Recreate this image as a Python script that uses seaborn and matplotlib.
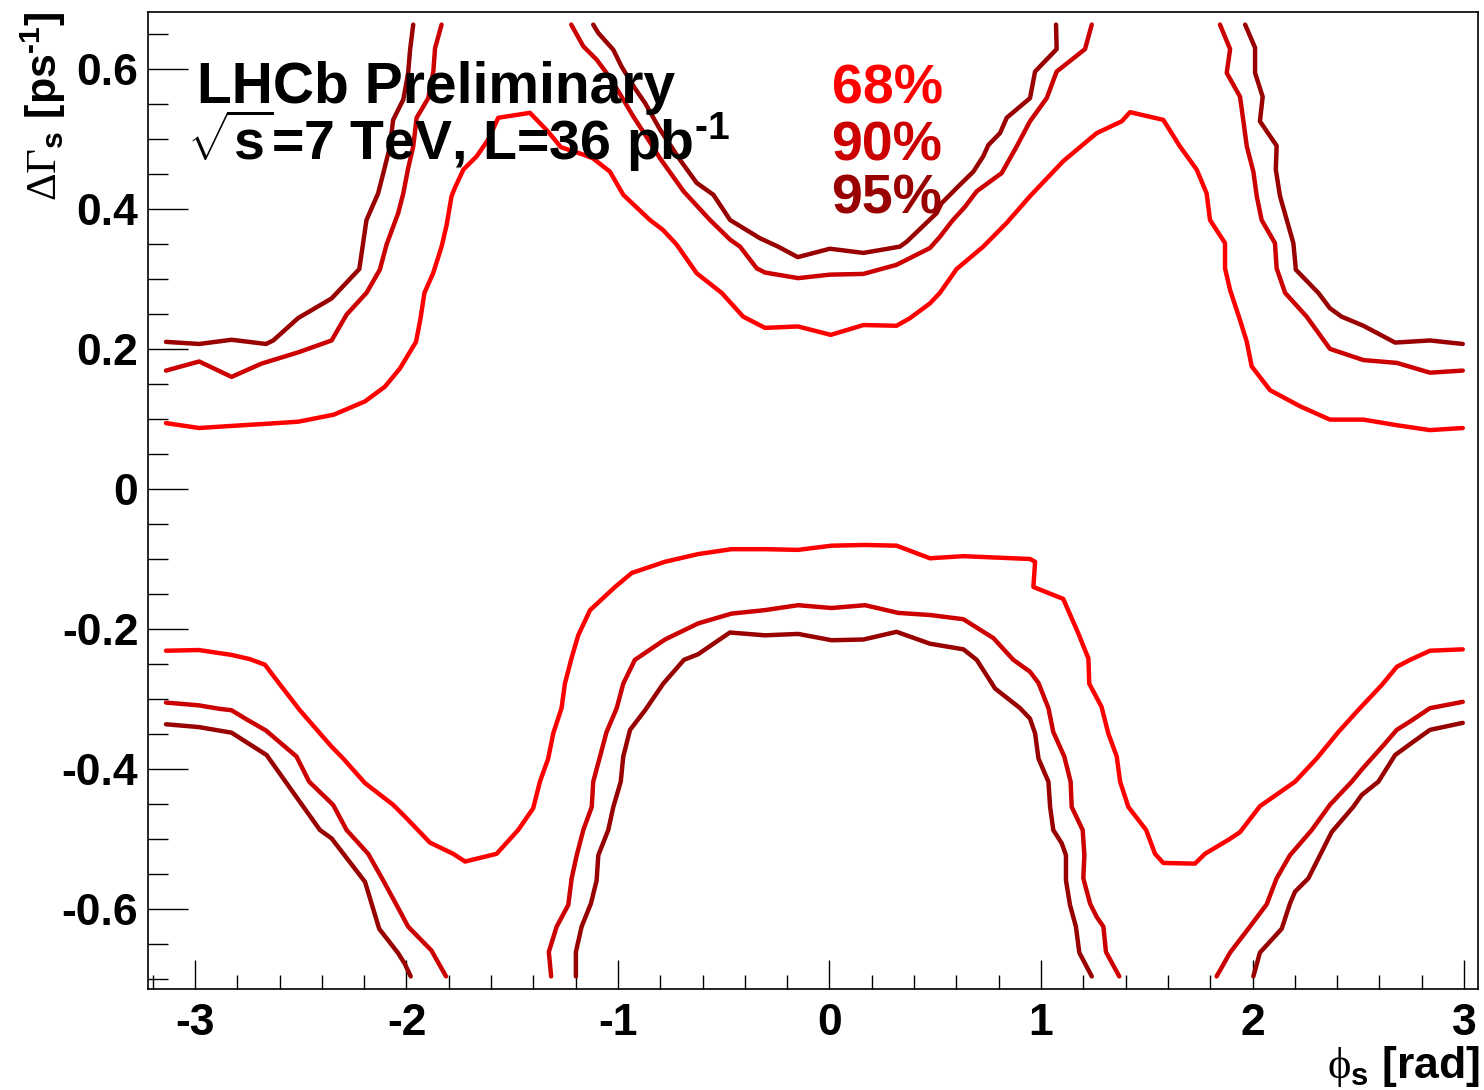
import pandas as pd
import seaborn as sns
import matplotlib.pyplot as plt
from matplotlib.ticker import MultipleLocator, FuncFormatter

# confidence levels and their colours
levels = ["68%", "90%", "95%"]
level_colors = {"68%": "#ff0000", "90%": "#cc0000", "95%": "#990000"}

# 68% contour, upper band (one piece)
up68_x = [-3.137, -2.980, -2.827, -2.664, -2.512, -2.344, -2.196, -2.102, -2.031, -1.955,
          -1.935, -1.915, -1.874, -1.834, -1.810, -1.787, -1.771, -1.731, -1.668, -1.613,
          -1.566, -1.416, -1.330, -1.270, -1.170, -1.118, -1.038, -0.975, -0.849, -0.788,
          -0.723, -0.628, -0.510, -0.408, -0.305, -0.149, 0.006, 0.160, 0.317, 0.381,
          0.475, 0.522, 0.601, 0.727, 0.838, 0.948, 1.105, 1.263, 1.382, 1.421,
          1.578, 1.657, 1.736, 1.783, 1.799, 1.870, 1.870, 1.894, 1.941, 1.973,
          1.996, 2.083, 2.225, 2.366, 2.524, 2.682, 2.839, 2.994]
up68_y = [0.094, 0.087, 0.090, 0.093, 0.096, 0.106, 0.125, 0.146, 0.172, 0.210,
          0.241, 0.280, 0.308, 0.346, 0.377, 0.418, 0.430, 0.456, 0.475, 0.499,
          0.530, 0.537, 0.510, 0.488, 0.478, 0.472, 0.453, 0.420, 0.384, 0.370,
          0.349, 0.308, 0.280, 0.246, 0.230, 0.232, 0.220, 0.234, 0.233, 0.244,
          0.265, 0.280, 0.314, 0.346, 0.380, 0.418, 0.468, 0.508, 0.525, 0.538,
          0.527, 0.489, 0.456, 0.422, 0.384, 0.351, 0.315, 0.284, 0.241, 0.210,
          0.175, 0.141, 0.118, 0.099, 0.099, 0.091, 0.084, 0.087]

# 68% contour, lower band (one piece)
lo68_x = [-3.137, -2.982, -2.827, -2.740, -2.669, -2.591, -2.504, -2.409, -2.354, -2.299,
          -2.196, -2.063, -2.000, -1.889, -1.779, -1.723, -1.574, -1.472, -1.401, -1.369,
          -1.330, -1.306, -1.267, -1.251, -1.220, -1.188, -1.132, -1.014, -0.935, -0.778,
          -0.621, -0.463, -0.305, -0.148, 0.010, 0.168, 0.317, 0.475, 0.633, 0.790,
          0.948, 0.972, 0.964, 1.105, 1.176, 1.224, 1.228, 1.286, 1.318, 1.358,
          1.374, 1.413, 1.497, 1.539, 1.578, 1.728, 1.775, 1.886, 1.941, 2.035,
          2.201, 2.303, 2.406, 2.508, 2.611, 2.682, 2.745, 2.839, 2.994]
lo68_y = [-0.231, -0.230, -0.237, -0.243, -0.251, -0.282, -0.316, -0.349, -0.368, -0.385,
          -0.420, -0.451, -0.470, -0.505, -0.521, -0.532, -0.521, -0.487, -0.456, -0.418,
          -0.385, -0.349, -0.313, -0.278, -0.242, -0.209, -0.173, -0.140, -0.120, -0.104,
          -0.093, -0.086, -0.086, -0.087, -0.081, -0.080, -0.081, -0.099, -0.096, -0.098,
          -0.100, -0.104, -0.140, -0.157, -0.206, -0.242, -0.278, -0.311, -0.349, -0.382,
          -0.418, -0.454, -0.487, -0.521, -0.534, -0.535, -0.521, -0.501, -0.490, -0.453,
          -0.418, -0.385, -0.347, -0.313, -0.280, -0.254, -0.244, -0.231, -0.229]

# 90% contour pieces
up90a_x = [-3.137, -2.980, -2.827, -2.685, -2.512, -2.354, -2.283, -2.189, -2.126, -2.094,
           -2.039, -2.015, -1.992, -1.968, -1.952, -1.897, -1.873, -1.865, -1.834]
up90a_y = [0.169, 0.182, 0.160, 0.179, 0.195, 0.212, 0.249, 0.280, 0.313, 0.349,
           0.394, 0.422, 0.458, 0.489, 0.530, 0.558, 0.596, 0.629, 0.663]
up90b_x = [-1.221, -1.164, -1.101, -1.037, -0.975, -0.928, -0.857, -0.801, -0.690, -0.565,
           -0.470, -0.423, -0.344, -0.305, -0.148, 0.002, 0.160, 0.317, 0.475, 0.522,
           0.578, 0.641, 0.696, 0.782, 0.814, 0.885, 0.948, 1.027, 1.074, 1.208, 1.240]
up90b_y = [0.663, 0.632, 0.613, 0.587, 0.556, 0.532, 0.499, 0.472, 0.425, 0.384,
           0.356, 0.346, 0.315, 0.309, 0.301, 0.306, 0.307, 0.320, 0.344, 0.360,
           0.382, 0.403, 0.425, 0.444, 0.451, 0.489, 0.525, 0.558, 0.596, 0.628, 0.663]
up90c_x = [1.846, 1.894, 1.878, 1.941, 1.973, 2.004, 2.020, 2.043, 2.106, 2.114,
           2.154, 2.256, 2.366, 2.524, 2.682, 2.839, 2.994]
up90c_y = [0.663, 0.628, 0.594, 0.560, 0.489, 0.453, 0.418, 0.384, 0.351, 0.315,
           0.280, 0.246, 0.200, 0.184, 0.180, 0.166, 0.169]
lo90a_x = [-3.137, -2.982, -2.883, -2.827, -2.756, -2.664, -2.520, -2.460, -2.347, -2.283,
           -2.181, -2.110, -2.047, -1.992, -1.882, -1.813]
lo90a_y = [-0.305, -0.309, -0.314, -0.316, -0.329, -0.345, -0.382, -0.418, -0.451, -0.487,
           -0.521, -0.559, -0.594, -0.625, -0.659, -0.696]
lo90b_x = [-1.316, -1.327, -1.290, -1.235, -1.219, -1.195, -1.164, -1.124, -1.117, -1.085,
           -1.054, -1.006, -0.975, -0.920, -0.778, -0.621, -0.463, -0.305, -0.148, 0.010,
           0.168, 0.325, 0.475, 0.633, 0.775, 0.869, 0.948, 0.988, 1.035, 1.058,
           1.110, 1.140, 1.145, 1.197, 1.205, 1.200, 1.232, 1.263, 1.295, 1.307, 1.370]
lo90b_y = [-0.696, -0.661, -0.625, -0.594, -0.556, -0.523, -0.487, -0.454, -0.418, -0.382,
           -0.347, -0.313, -0.278, -0.244, -0.215, -0.192, -0.178, -0.173, -0.166, -0.170,
           -0.166, -0.177, -0.180, -0.186, -0.213, -0.244, -0.261, -0.277, -0.313, -0.347,
           -0.382, -0.418, -0.454, -0.487, -0.523, -0.556, -0.592, -0.611, -0.625, -0.661, -0.696]
lo90c_x = [1.830, 1.894, 1.980, 2.067, 2.114, 2.177, 2.280, 2.366, 2.469, 2.524,
           2.619, 2.682, 2.745, 2.839, 2.994]
lo90c_y = [-0.696, -0.662, -0.628, -0.593, -0.556, -0.523, -0.487, -0.451, -0.418, -0.398,
           -0.366, -0.344, -0.332, -0.313, -0.304]

# 95% contour pieces
up95a_x = [-3.137, -2.980, -2.827, -2.664, -2.630, -2.512, -2.354, -2.223, -2.189, -2.134,
           -2.102, -2.078, -2.063, -2.015, -1.992, -1.983, -1.968]
up95a_y = [0.210, 0.207, 0.213, 0.207, 0.212, 0.244, 0.272, 0.314, 0.384, 0.422,
           0.460, 0.489, 0.527, 0.556, 0.594, 0.627, 0.663]
up95b_x = [-1.117, -1.093, -1.022, -0.983, -0.920, -0.872, -0.801, -0.707, -0.628, -0.549,
           -0.470, -0.329, -0.243, -0.150, 0.002, 0.160, 0.333, 0.365, 0.507, 0.530,
           0.609, 0.680, 0.727, 0.751, 0.806, 0.838, 0.948, 0.972, 1.074, 1.071]
up95b_y = [0.663, 0.651, 0.627, 0.603, 0.572, 0.551, 0.513, 0.470, 0.437, 0.420,
           0.384, 0.358, 0.346, 0.331, 0.343, 0.337, 0.346, 0.353, 0.394, 0.408,
           0.432, 0.453, 0.475, 0.491, 0.508, 0.530, 0.558, 0.596, 0.628, 0.663]
up95c_x = [1.965, 2.012, 2.012, 2.048, 2.035, 2.114, 2.110, 2.130, 2.193, 2.205,
           2.311, 2.366, 2.421, 2.524, 2.674, 2.839, 2.994]
up95c_y = [0.663, 0.630, 0.594, 0.560, 0.525, 0.490, 0.456, 0.418, 0.351, 0.313,
           0.280, 0.258, 0.246, 0.233, 0.209, 0.212, 0.207]
lo95a_x = [-3.137, -2.982, -2.827, -2.661, -2.520, -2.409, -2.354, -2.196, -2.165, -2.129,
           -2.039, -2.008, -1.980]
lo95a_y = [-0.336, -0.340, -0.348, -0.380, -0.440, -0.487, -0.499, -0.561, -0.592, -0.628,
           -0.663, -0.678, -0.696]
lo95b_x = [-1.199, -1.199, -1.172, -1.128, -1.101, -1.093, -1.046, -1.022, -0.987, -0.975,
           -0.943, -0.872, -0.786, -0.688, -0.621, -0.471, -0.305, -0.148, 0.010, 0.160,
           0.317, 0.475, 0.633, 0.696, 0.783, 0.901, 0.948, 0.972, 0.988, 1.035,
           1.043, 1.058, 1.098, 1.118, 1.118, 1.137, 1.165, 1.181, 1.240]
lo95b_y = [-0.696, -0.661, -0.625, -0.592, -0.559, -0.523, -0.487, -0.454, -0.418, -0.382,
           -0.344, -0.316, -0.278, -0.244, -0.236, -0.205, -0.209, -0.207, -0.216, -0.215,
           -0.204, -0.221, -0.229, -0.244, -0.285, -0.313, -0.328, -0.349, -0.385, -0.418,
           -0.454, -0.487, -0.506, -0.523, -0.559, -0.594, -0.625, -0.662, -0.696]
lo95c_x = [2.004, 2.035, 2.138, 2.177, 2.201, 2.264, 2.319, 2.374, 2.476, 2.516,
           2.595, 2.674, 2.760, 2.839, 2.994]
lo95c_y = [-0.696, -0.662, -0.628, -0.592, -0.575, -0.556, -0.523, -0.490, -0.454, -0.437,
           -0.418, -0.380, -0.361, -0.344, -0.334]

pieces = [
    ("68%", up68_x, up68_y), ("68%", lo68_x, lo68_y),
    ("90%", up90a_x, up90a_y), ("90%", up90b_x, up90b_y), ("90%", up90c_x, up90c_y),
    ("90%", lo90a_x, lo90a_y), ("90%", lo90b_x, lo90b_y), ("90%", lo90c_x, lo90c_y),
    ("95%", up95a_x, up95a_y), ("95%", up95b_x, up95b_y), ("95%", up95c_x, up95c_y),
    ("95%", lo95a_x, lo95a_y), ("95%", lo95b_x, lo95b_y), ("95%", lo95c_x, lo95c_y),
]

rows = []
for i, (cl, xs, ys) in enumerate(pieces):
    for x, y in zip(xs, ys):
        rows.append({"phi": x, "dgamma": y, "cl": cl, "seg": i})
df = pd.DataFrame(rows)

sns.set_style("ticks")
plt.rcParams["font.family"] = ["Liberation Sans", "DejaVu Sans"]
plt.rcParams["font.weight"] = "bold"
plt.rcParams["axes.labelweight"] = "bold"
plt.rcParams["text.color"] = "black"
plt.rcParams["axes.labelcolor"] = "black"
plt.rcParams["axes.unicode_minus"] = False
plt.rcParams["mathtext.fontset"] = "custom"
plt.rcParams["mathtext.rm"] = "Liberation Sans:bold"
plt.rcParams["mathtext.it"] = "Liberation Sans:bold"
plt.rcParams["mathtext.bf"] = "Liberation Sans:bold"
plt.rcParams["mathtext.sf"] = "Liberation Serif:weight=normal"

fig = plt.figure(figsize=(14.84, 10.90), dpi=100)
ax = fig.add_axes([148 / 1484, 101 / 1090, 1330 / 1484, 977 / 1090])

sns.lineplot(data=df, x="phi", y="dgamma", hue="cl", units="seg", estimator=None,
             sort=False, palette=level_colors, hue_order=levels, linewidth=3.2,
             legend=False, ax=ax)

ax.set_xlim(-3.222, 3.066)
ax.set_ylim(-0.714, 0.681)

ax.xaxis.set_major_locator(MultipleLocator(1))
ax.xaxis.set_minor_locator(MultipleLocator(0.2))
ax.yaxis.set_major_locator(MultipleLocator(0.2))
ax.yaxis.set_minor_locator(MultipleLocator(0.05))
fmt = FuncFormatter(lambda v, p: "0" if abs(v) < 1e-9 else f"{v:g}")
ax.xaxis.set_major_formatter(fmt)
ax.yaxis.set_major_formatter(fmt)

ax.tick_params(axis="both", which="both", direction="in", width=1, colors="black",
               labelsize=32, top=False, right=False)
ax.tick_params(axis="y", which="major", length=29, pad=7)
ax.tick_params(axis="y", which="minor", length=14.5)
ax.tick_params(axis="x", which="major", length=21, pad=10)
ax.tick_params(axis="x", which="minor", length=10)
for s in ax.spines.values():
    s.set_linewidth(1.2)
    s.set_color("black")

ax.set_xlabel(r"$\mathsf{\phi}_{s}$ [rad]", fontsize=32, loc="right")
ax.xaxis.set_label_coords(1.0015, -0.056)
ax.set_ylabel(r"$\mathsf{\Delta\Gamma}_{s}$ [ps$^{\text{-1}}$]", fontsize=31, loc="top")
ax.yaxis.set_label_coords(-0.0605, 1.0)

ax.text(0.037, 0.9066, "LHCb Preliminary", transform=ax.transAxes, fontsize=41,
        ha="left", va="baseline")
ax.text(0.029, 0.8485, r"$\sqrt{s}$=7 TeV, L=36 pb$^{\text{-1}}$", transform=ax.transAxes,
        fontsize=40, ha="left", va="baseline")
for lab, yy in zip(levels, [0.9066, 0.8485, 0.794]):
    ax.text(0.514, yy, lab, transform=ax.transAxes, fontsize=40, color=level_colors[lab],
            ha="left", va="baseline")

fig.savefig("out.png", dpi=100)
